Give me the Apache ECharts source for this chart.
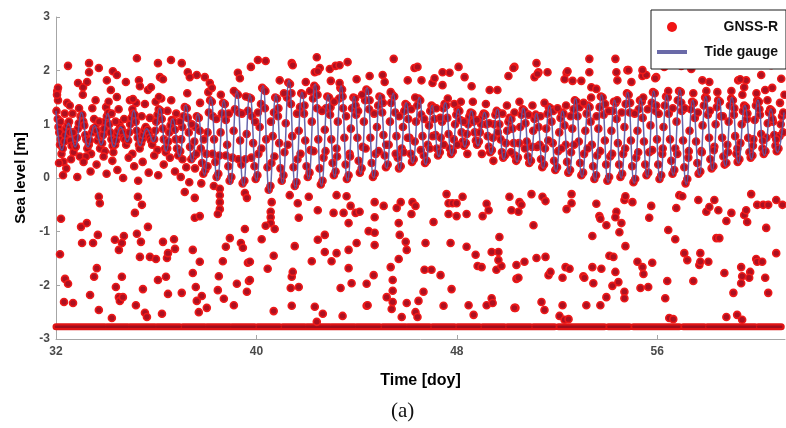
<!DOCTYPE html>
<html><head><meta charset="utf-8">
<script src="https://cdn.jsdelivr.net/npm/echarts/dist/echarts.min.js"></script>
<style>html,body{margin:0;padding:0;background:#fff}#c{width:786px;height:428px}</style>
</head><body><div id="c"></div>
<script>
// ---- data ----
const xTickInterval = 8;            // ticks 32, 40, 48, 56
const yTickInterval = 1;            // ticks -3 ... 3

// Tide gauge: successive high / low waters (day of year, metres)
const tideDay = [32.00,32.24,32.50,32.76,33.02,33.28,33.54,33.80,34.06,34.32,34.58,34.84,35.10,35.36,35.62,35.88,36.14,36.40,36.66,36.92,37.18,37.44,37.66,37.92,38.18,38.44,38.70,38.96,39.22,39.48,39.74,40.00,40.26,40.52,40.78,41.04,41.30,41.56,41.82,42.08,42.34,42.60,42.86,43.12,43.38,43.64,43.90,44.16,44.42,44.68,44.94,45.20,45.46,45.72,45.98,46.24,46.50,46.76,47.02,47.28,47.54,47.80,48.06,48.32,48.58,48.84,49.10,49.36,49.62,49.88,50.14,50.40,50.66,50.92,51.18,51.44,51.70,51.96,52.22,52.48,52.74,53.00,53.26,53.52,53.78,54.04,54.30,54.56,54.82,55.08,55.34,55.60,55.86,56.12,56.38,56.64,56.90,57.16,57.42,57.68,57.94,58.20,58.46,58.72,58.98,59.24,59.50,59.76,60.02,60.28,60.54,60.80,61.06];
const tideLevel = [1.25,0.52,1.02,0.58,1.22,0.58,0.98,0.62,1.20,0.58,0.95,0.68,1.26,0.60,0.92,0.68,1.30,0.50,1.10,0.40,1.36,0.30,1.20,0.05,1.50,-0.05,1.45,-0.12,1.62,-0.15,1.55,-0.05,1.72,-0.28,1.55,-0.10,1.82,-0.20,1.60,-0.02,1.75,-0.15,1.55,0.02,1.72,-0.05,1.52,0.08,1.68,0.00,1.55,0.18,1.58,0.15,1.40,0.28,1.50,0.25,1.35,0.40,1.40,0.42,1.28,0.58,1.25,0.60,1.22,0.45,1.28,0.35,1.15,0.30,1.30,0.25,1.20,0.18,1.35,0.12,1.25,0.08,1.48,0.02,1.38,-0.05,1.55,-0.08,1.45,0.00,1.60,-0.10,1.48,0.02,1.62,-0.05,1.55,0.05,1.65,-0.12,1.45,0.05,1.52,0.15,1.48,0.22,1.50,0.28,1.35,0.35,1.45,0.42,1.28,0.48,1.22];

// GNSS-R retrievals following the tide
const gnssTrack = [[32.02,1.25],[32.05,1.62],[32.07,1.10],[32.10,0.95],[32.13,0.85],[32.16,0.62],[32.19,0.72],[32.22,0.45],[32.27,0.55],[32.30,0.30],[32.33,0.68],[32.36,0.80],[32.40,0.92],[32.44,1.40],[32.47,0.98],[32.52,1.05],[32.55,0.85],[32.58,0.70],[32.62,0.60],[32.66,1.20],[32.70,0.48],[32.74,0.62],[32.79,0.58],[32.83,0.75],[32.87,0.92],[32.91,1.02],[32.95,0.40],[32.98,1.15],
[33.05,1.18],[33.09,1.05],[33.13,0.98],[33.17,0.80],[33.21,0.72],[33.25,0.55],[33.31,0.62],[33.35,0.70],[33.40,0.45],[33.44,0.85],[33.49,0.92],[33.52,1.10],[33.58,0.95],[33.62,0.88],[33.66,0.70],[33.71,0.78],[33.76,0.55],[33.84,0.65],[33.88,0.80],[33.92,0.92],[33.96,1.05],[34.00,1.32],[34.03,1.15],
[34.09,1.22],[34.13,1.00],[34.17,0.85],[34.21,0.72],[34.26,0.60],[34.29,0.48],[34.36,0.62],[34.40,0.70],[34.44,0.82],[34.48,0.88],[34.53,1.02],[34.56,0.95],[34.62,0.92],[34.66,0.85],[34.70,0.75],[34.75,0.72],[34.80,0.62],[34.88,0.70],[34.92,0.85],[34.96,1.00],[35.01,1.12],[35.05,1.28],[35.08,1.20],
[35.14,1.18],[35.18,1.05],[35.22,0.88],[35.26,0.75],[35.31,0.62],[35.34,0.55],[35.40,0.65],[35.44,0.72],[35.48,0.80],[35.53,0.90],[35.58,0.95],[35.66,0.90],[35.70,0.82],[35.74,0.75],[35.79,0.70],[35.84,0.62],[35.92,0.72],[35.96,0.88],[36.00,1.05],[36.05,1.18],[36.10,1.28],
[36.18,1.25],[36.22,1.10],[36.26,0.92],[36.30,0.72],[36.35,0.55],[36.38,0.48],[36.44,0.55],[36.48,0.68],[36.52,0.85],[36.57,0.98],[36.62,1.08],[36.70,1.05],[36.74,0.90],[36.78,0.72],[36.83,0.55],[36.88,0.42],[36.96,0.50],[37.00,0.72],[37.04,0.95],[37.09,1.15],[37.14,1.32],
[37.22,1.30],[37.26,1.12],[37.30,0.85],[37.35,0.58],[37.40,0.35],[37.48,0.40],[37.52,0.68],[37.57,0.95],[37.62,1.15],[37.70,1.12],[37.74,0.88],[37.78,0.55],[37.83,0.28],[37.88,0.08],[37.96,0.15],[38.00,0.45],[38.05,0.85],[38.10,1.22],[38.15,1.45],
[38.22,1.42],[38.26,1.15],[38.31,0.72],[38.36,0.30],[38.41,0.02],[38.48,0.08],[38.52,0.42],[38.57,0.85],[38.62,1.20],[38.67,1.40],[38.74,1.38],[38.78,1.08],[38.83,0.62],[38.88,0.22],[38.93,-0.05],[39.00,0.02],[39.04,0.38],[39.09,0.88],[39.14,1.28],[39.19,1.58],
[39.26,1.55],[39.30,1.22],[39.35,0.70],[39.40,0.25],[39.45,-0.10],[39.52,-0.05],[39.56,0.35],[39.61,0.82],[39.66,1.25],[39.71,1.50],[39.78,1.48],[39.82,1.15],[39.87,0.65],[39.92,0.22],[39.97,-0.02],
[40.04,0.05],[40.08,0.45],[40.13,0.95],[40.18,1.38],[40.23,1.68],[40.30,1.65],[40.34,1.30],[40.39,0.72],[40.44,0.20],[40.49,-0.22],[40.56,-0.15],[40.60,0.28],[40.65,0.78],[40.70,1.22],[40.75,1.50],[40.82,1.48],[40.86,1.15],[40.91,0.65],[40.96,0.18],[41.01,-0.05],
[41.08,0.05],[41.12,0.48],[41.17,1.02],[41.22,1.50],[41.27,1.78],[41.34,1.75],[41.38,1.38],[41.43,0.78],[41.48,0.20],[41.53,-0.15],[41.60,-0.08],[41.64,0.35],[41.69,0.88],[41.74,1.32],[41.79,1.58],[41.86,1.55],[41.90,1.20],[41.95,0.70],[42.00,0.22],[42.05,0.02],
[42.12,0.10],[42.16,0.52],[42.21,1.05],[42.26,1.48],[42.31,1.72],[42.38,1.68],[42.42,1.30],[42.47,0.72],[42.52,0.18],[42.57,-0.12],[42.64,-0.05],[42.68,0.38],[42.73,0.90],[42.78,1.30],[42.83,1.52],[42.90,1.50],[42.94,1.18],[42.99,0.72],[43.04,0.28],[43.09,0.05],
[43.16,0.12],[43.20,0.55],[43.25,1.05],[43.30,1.48],[43.35,1.68],[43.42,1.65],[43.46,1.30],[43.51,0.75],[43.56,0.25],[43.61,-0.02],[43.68,0.05],[43.72,0.45],[43.77,0.92],[43.82,1.30],[43.87,1.50],[43.94,1.48],[43.98,1.18],[44.03,0.75],[44.08,0.32],[44.13,0.10],
[44.20,0.18],[44.24,0.58],[44.29,1.05],[44.34,1.45],[44.39,1.65],[44.46,1.62],[44.50,1.28],[44.55,0.75],[44.60,0.28],[44.65,0.02],[44.72,0.08],[44.76,0.45],[44.81,0.95],[44.86,1.35],[44.91,1.52],[44.98,1.50],[45.02,1.22],[45.07,0.80],[45.12,0.42],[45.17,0.20],
[45.24,0.25],[45.28,0.62],[45.33,1.05],[45.38,1.40],[45.43,1.55],[45.50,1.52],[45.54,1.22],[45.59,0.78],[45.64,0.38],[45.69,0.18],[45.76,0.22],[45.80,0.55],[45.85,0.95],[45.90,1.25],[45.95,1.38],
[46.02,1.35],[46.06,1.10],[46.11,0.75],[46.16,0.45],[46.21,0.30],[46.28,0.35],[46.32,0.68],[46.37,1.05],[46.42,1.35],[46.47,1.48],[46.54,1.45],[46.58,1.18],[46.63,0.78],[46.68,0.42],[46.73,0.28],[46.80,0.32],[46.84,0.62],[46.89,0.98],[46.94,1.25],[46.99,1.35],
[47.06,1.32],[47.10,1.10],[47.15,0.80],[47.20,0.55],[47.25,0.42],[47.32,0.48],[47.36,0.75],[47.41,1.05],[47.46,1.30],[47.51,1.38],[47.58,1.35],[47.62,1.12],[47.67,0.82],[47.72,0.55],[47.77,0.45],[47.84,0.50],[47.88,0.72],[47.93,1.00],[47.98,1.18],[48.03,1.28],
[48.10,1.25],[48.14,1.08],[48.19,0.85],[48.24,0.68],[48.29,0.60],[48.36,0.65],[48.40,0.82],[48.45,1.00],[48.50,1.15],[48.55,1.22],[48.62,1.20],[48.66,1.05],[48.71,0.85],[48.76,0.70],[48.81,0.62],[48.88,0.68],[48.92,0.85],[48.97,1.00],[49.02,1.15],[49.07,1.20],
[49.14,1.18],[49.18,1.00],[49.23,0.78],[49.28,0.58],[49.33,0.48],[49.40,0.52],[49.44,0.75],[49.49,1.00],[49.54,1.18],[49.59,1.25],[49.66,1.22],[49.70,1.00],[49.75,0.72],[49.80,0.48],[49.85,0.38],[49.92,0.42],[49.96,0.65],[50.01,0.88],[50.06,1.05],[50.11,1.12],
[50.18,1.10],[50.22,0.92],[50.27,0.65],[50.32,0.42],[50.37,0.32],[50.44,0.38],[50.48,0.65],[50.53,0.95],[50.58,1.18],[50.63,1.28],[50.70,1.25],[50.74,1.02],[50.79,0.68],[50.84,0.40],[50.89,0.28],[50.96,0.32],[51.00,0.58],[51.05,0.88],[51.10,1.10],[51.15,1.18],
[51.22,1.15],[51.26,0.95],[51.31,0.62],[51.36,0.35],[51.41,0.20],[51.48,0.25],[51.52,0.55],[51.57,0.92],[51.62,1.20],[51.67,1.32],[51.74,1.30],[51.78,1.05],[51.83,0.65],[51.88,0.32],[51.93,0.15],
[52.00,0.20],[52.04,0.50],[52.09,0.85],[52.14,1.12],[52.19,1.22],[52.26,1.20],[52.30,0.98],[52.35,0.62],[52.40,0.30],[52.45,0.10],[52.52,0.15],[52.56,0.48],[52.61,0.92],[52.66,1.28],[52.71,1.45],[52.78,1.42],[52.82,1.15],[52.87,0.68],[52.92,0.28],[52.97,0.05],
[53.04,0.10],[53.08,0.45],[53.13,0.88],[53.18,1.20],[53.23,1.35],[53.30,1.32],[53.34,1.05],[53.39,0.62],[53.44,0.22],[53.49,-0.02],[53.56,0.05],[53.60,0.42],[53.65,0.92],[53.70,1.32],[53.75,1.52],[53.82,1.50],[53.86,1.18],[53.91,0.70],[53.96,0.25],[54.01,-0.05],
[54.08,0.02],[54.12,0.40],[54.17,0.88],[54.22,1.25],[54.27,1.42],[54.34,1.40],[54.38,1.10],[54.43,0.65],[54.48,0.25],[54.53,0.02],[54.60,0.08],[54.64,0.45],[54.69,0.95],[54.74,1.38],[54.79,1.58],[54.86,1.55],[54.90,1.22],[54.95,0.70],[55.00,0.22],[55.05,-0.08],
[55.12,-0.02],[55.16,0.38],[55.21,0.88],[55.26,1.28],[55.31,1.45],[55.38,1.42],[55.42,1.12],[55.47,0.68],[55.52,0.25],[55.57,0.05],[55.64,0.10],[55.68,0.48],[55.73,0.98],[55.78,1.40],[55.83,1.60],[55.90,1.58],[55.94,1.25],[55.99,0.72],[56.04,0.25],[56.09,-0.02],
[56.16,0.05],[56.20,0.45],[56.25,0.95],[56.30,1.35],[56.35,1.52],[56.42,1.50],[56.46,1.20],[56.51,0.72],[56.56,0.32],[56.61,0.08],[56.68,0.15],[56.72,0.55],[56.77,1.05],[56.82,1.45],[56.87,1.62],[56.94,1.60],[56.98,1.25],[57.03,0.70],[57.08,0.20],[57.13,-0.10],
[57.20,-0.02],[57.24,0.38],[57.29,0.88],[57.34,1.28],[57.39,1.42],[57.46,1.40],[57.50,1.12],[57.55,0.68],[57.60,0.28],[57.65,0.08],[57.72,0.12],[57.76,0.50],[57.81,0.98],[57.86,1.35],[57.91,1.50],[57.98,1.48],[58.02,1.18],[58.07,0.75],[58.12,0.35],[58.17,0.18],
[58.24,0.22],[58.28,0.58],[58.33,1.00],[58.38,1.32],[58.43,1.45],[58.50,1.42],[58.54,1.15],[58.59,0.75],[58.64,0.40],[58.69,0.25],[58.76,0.28],[58.80,0.62],[58.85,1.05],[58.90,1.35],[58.95,1.48],[59.02,1.45],[59.06,1.18],[59.11,0.78],[59.16,0.45],[59.21,0.30],
[59.28,0.35],[59.32,0.65],[59.37,1.00],[59.42,1.25],[59.47,1.35],[59.54,1.32],[59.58,1.10],[59.63,0.75],[59.68,0.48],[59.73,0.38],[59.80,0.42],[59.84,0.72],[59.89,1.08],[59.94,1.35],[59.99,1.45],
[60.06,1.42],[60.10,1.18],[60.15,0.82],[60.20,0.55],[60.25,0.45],[60.32,0.50],[60.36,0.75],[60.41,1.02],[60.46,1.22],[60.51,1.28],[60.58,1.25],[60.62,1.05],[60.67,0.80],[60.72,0.60],[60.77,0.50],[60.84,0.55],[60.88,0.78],[60.93,1.00],[60.98,1.15],[61.03,1.22]];

// GNSS-R retrievals scattered around the tide band
const gnssSpread = [[32.08,1.45],[32.18,1.05],[32.35,1.20],[32.55,1.35],[32.68,0.85],[32.92,1.30],[33.07,1.55],[33.20,0.40],[33.45,1.30],[33.58,1.45],[33.72,1.05],[33.95,0.50],[34.10,1.42],[34.22,1.20],[34.38,1.05],[34.50,1.28],[34.72,1.10],[34.95,1.45],[35.05,0.45],[35.20,1.40],[35.42,1.15],[35.55,1.38],[35.75,1.12],[35.98,1.42],[36.05,0.52],[36.20,1.48],[36.45,1.25],[36.60,1.45],[36.80,1.20],[36.95,1.05],[37.05,0.35],[37.24,1.58],[37.42,1.00],[37.60,0.45],[37.75,1.40],[37.90,0.72],[38.08,1.60],[38.25,0.45],[38.40,1.10],[38.58,1.55],[38.78,0.42],[38.90,1.20],[39.10,1.62],[39.28,0.35],[39.42,1.20],[39.58,1.52],[39.80,0.38],[39.95,1.05],[40.06,1.22],[40.20,0.55],[40.36,1.62],[40.58,1.05],[40.72,0.40],[40.88,1.30],[41.10,1.58],[41.25,0.62],[41.40,1.58],[41.62,1.20],[41.76,0.45],[41.92,1.35],[42.14,1.62],[42.28,0.50],[42.44,1.55],[42.62,1.25],[42.76,0.50],[42.96,1.32],[43.10,1.42],[43.22,0.40],[43.44,1.52],[43.58,1.15],[43.74,0.40],[43.96,1.35],[44.06,1.25],[44.22,1.55],[44.36,0.55],[44.52,1.45],[44.70,1.20],[44.88,0.50],[45.05,1.40],[45.18,0.62],[45.36,1.60],[45.56,0.45],[45.70,1.15],[45.88,0.48],[46.04,0.75],[46.18,1.28],[46.34,1.50],[46.56,0.52],[46.70,1.10],[46.92,0.55],[47.04,0.78],[47.18,1.30],[47.34,1.12],[47.48,0.62],[47.64,1.48],[47.90,1.38],[48.02,0.62],[48.16,1.42],[48.28,1.05],[48.42,0.45],[48.64,1.42],[48.80,1.08],[49.00,0.45],[49.16,1.38],[49.30,1.02],[49.46,0.32],[49.64,0.85],[49.82,1.20],[50.00,1.35],[50.16,0.48],[50.30,1.22],[50.50,1.42],[50.72,0.55],[50.86,1.18],[51.02,1.35],[51.20,0.58],[51.34,1.15],[51.50,1.40],[51.65,0.70],[51.85,1.25],[52.02,1.30],[52.18,0.55],[52.36,1.35],[52.54,1.15],[52.68,0.62],[52.90,1.32],[53.06,1.40],[53.22,0.55],[53.36,1.50],[53.58,1.15],[53.72,0.50],[53.92,1.38],[54.06,1.25],[54.20,0.45],[54.40,1.45],[54.58,1.22],[54.72,0.55],[54.92,1.40],[55.10,1.20],[55.24,0.48],[55.44,1.50],[55.62,1.28],[55.80,0.52],[55.96,1.35],[56.06,1.20],[56.22,0.55],[56.44,1.62],[56.62,1.30],[56.80,0.45],[56.96,1.40],[57.10,1.30],[57.26,0.50],[57.44,1.58],[57.62,1.22],[57.78,0.48],[57.96,1.62],[58.10,1.25],[58.26,0.52],[58.40,1.60],[58.62,1.15],[58.82,0.48],[58.96,1.62],[59.08,1.30],[59.20,0.55],[59.40,1.55],[59.60,1.20],[59.82,0.60],[59.96,1.58],[60.08,1.28],[60.22,0.70],[60.40,1.45],[60.60,1.10],[60.75,0.72],[60.90,1.40],[61.02,0.85],[61.08,1.55],
[32.12,0.28],[32.28,0.05],[32.41,0.18],[32.60,0.35],[32.85,0.02],[33.10,0.30],[33.38,0.12],[33.62,0.25],[33.90,0.40],[34.02,0.08],[34.25,0.32],[34.45,0.15],[34.68,0.00],[34.90,0.38],[35.12,0.22],[35.28,-0.05],[35.46,0.30],[35.70,0.10],[35.92,0.42],[36.08,0.05],[36.30,0.25],[36.55,0.38],[36.75,0.12],[36.98,0.02],[37.20,0.20],[37.32,-0.08],[37.55,0.18],[37.80,-0.10],[38.05,0.22],[38.30,-0.15]];

// GNSS-R retrievals well above the tide
const gnssHigh = [[32.48,2.09],[33.32,2.14],[33.32,1.97],[33.71,2.05],[34.27,1.99],[34.43,1.92],[34.79,1.79],[35.23,2.23],[35.31,1.82],[36.07,2.14],[36.59,2.20],[36.15,1.88],[36.27,1.84],[37.02,2.14],[37.26,1.97],[37.34,1.88],[37.62,1.92],[37.94,1.88],[38.14,1.77],[38.22,1.68],[39.26,1.96],[39.34,1.86],[39.78,2.07],[40.06,2.20],[32.08,1.68],[32.04,1.55],[32.88,1.77],[33.08,1.69],[33.24,1.79],[34.03,1.82],[34.19,1.64],[35.35,1.71],[35.67,1.64],[35.79,1.69],[36.11,1.51],[35.07,1.47],[34.43,1.51],[40.37,2.18],[41.41,2.14],[41.45,2.10],[42.41,2.25],[42.33,1.97],[42.53,2.05],[42.45,1.99],[42.93,2.03],[43.16,2.09],[43.32,2.10],[43.64,2.16],[40.93,1.82],[41.97,1.79],[42.97,1.81],[43.32,1.77],[44.00,1.84],[44.52,1.90],[45.48,2.22],[45.04,1.92],[45.12,1.79],[46.04,1.82],[46.31,2.05],[46.43,2.07],[46.59,1.82],[47.03,1.77],[47.11,1.86],[47.43,1.97],[47.71,1.96],[48.07,2.07],[48.31,1.88],[48.59,1.71],[47.43,1.73],[49.31,1.64],[49.62,1.64],[50.06,1.90],[50.30,2.07],[51.10,1.88],[51.26,1.97],[51.62,1.97],[52.38,1.96],[52.30,1.84],[52.62,1.81],[52.97,1.81],[53.29,2.22],[53.29,1.97],[53.37,1.69],[53.57,1.66],[54.33,2.22],[54.37,1.97],[54.41,1.82],[54.81,2.01],[54.97,1.79],[55.41,1.90],[55.56,1.92],[55.96,1.88],[56.32,2.10],[56.60,2.14],[56.96,2.09],[57.36,2.03],[57.80,1.82],[58.08,1.79],[59.23,1.82],[59.55,1.82],[59.39,2.20],[56.28,2.07],[55.41,2.01],[55.92,1.86],[59.31,1.84],[59.47,1.69],[60.59,1.68],[60.31,1.64],[50.26,2.05],[51.18,2.14],[51.22,1.94],[52.42,1.99],[54.85,2.01],[60.55,2.10],[60.95,1.85],[60.15,1.92]];

// GNSS-R retrievals below zero
const gnssLow = [[32.20,-0.76],[32.16,-1.42],[32.36,-1.88],[32.48,-1.97],[32.32,-2.31],[32.68,-2.33],[33.00,-0.91],[33.04,-1.21],[33.23,-0.84],[33.36,-2.18],[33.48,-1.21],[33.52,-1.84],[33.63,-1.68],[33.67,-1.06],[33.71,-2.46],[33.71,-0.35],[33.75,-0.47],[34.23,-2.61],[34.35,-1.15],[34.39,-2.03],[34.51,-1.34],[34.51,-2.22],[34.55,-2.29],[34.63,-1.21],[34.63,-1.84],[34.71,-1.08],[34.67,-2.22],[35.15,-0.65],[35.19,-2.37],[35.23,-1.04],[35.27,-0.35],[35.35,-1.47],[35.43,-0.50],[35.39,-1.19],[35.47,-2.07],[35.55,-2.51],[35.63,-2.59],[35.67,-0.91],[35.75,-1.47],[35.99,-1.51],[36.07,-1.90],[36.23,-2.53],[36.27,-1.19],[36.39,-1.84],[36.43,-1.49],[36.47,-1.40],[36.47,-2.16],[36.71,-1.14],[36.75,-1.32],[37.02,-2.14],[37.14,-0.26],[37.46,-1.34],[37.46,-1.77],[37.54,-0.37],[37.54,-0.74],[37.74,-0.71],[37.58,-2.03],[37.62,-2.29],[37.70,-2.50],[37.74,-1.56],[37.82,-2.20],[38.02,-2.42],[38.46,-2.09],[38.50,-1.83],[38.54,-0.20],[38.54,-0.32],[38.54,-0.45],[38.54,-0.58],[38.46,-0.67],[38.66,-1.55],[38.70,-2.25],[38.78,-1.28],[38.94,-1.12],[39.10,-2.37],[39.22,-1.97],[39.38,-1.21],[39.46,-1.30],[39.54,-0.95],[39.62,-2.12],[39.66,-1.58],[39.70,-1.92],[39.54,-0.28],[39.62,-0.37],
[40.61,-0.45],[40.57,-0.63],[40.57,-0.73],[40.57,-0.84],[40.37,-0.89],[40.73,-0.95],[40.21,-1.14],[40.69,-1.45],[40.45,-1.69],[40.69,-2.48],[39.74,-1.56],[39.74,-1.90],[41.41,-1.84],[41.45,-1.75],[41.37,-2.05],[41.69,-2.03],[41.41,-2.38],[41.53,-1.27],[41.69,-0.74],[41.65,-0.47],[41.33,-0.32],[42.09,-0.35],[42.21,-1.55],[42.33,-2.40],[42.41,-2.68],[42.45,-1.15],[42.45,-0.60],[42.65,-2.53],[42.73,-1.06],[42.73,-1.38],[43.00,-1.55],[43.08,-0.65],[43.20,-1.40],[43.20,-0.32],[43.36,-2.05],[43.44,-2.57],[43.48,-0.65],[43.60,-0.34],[43.68,-1.34],[43.68,-0.84],[43.68,-1.68],[43.76,-0.52],[43.80,-1.96],[44.00,-1.21],[43.96,-0.65],[44.12,-0.63],[44.40,-2.38],[44.40,-1.97],[44.44,-2.37],[44.48,-0.99],[44.68,-1.81],[44.72,-0.45],[44.72,-0.73],[44.72,-1.02],[44.72,-1.25],[45.08,-0.52],[45.20,-2.22],[45.36,-1.66],[45.40,-2.44],[45.44,-1.90],[45.44,-2.10],[45.44,-2.31],[45.60,-0.56],[45.68,-0.84],[45.72,-1.06],[45.68,-1.51],[45.76,-0.45],[45.80,-2.59],[45.96,-1.19],[46.00,-1.34],[46.00,-2.33],[46.19,-0.67],[46.23,-0.45],[46.35,-0.52],[46.35,-2.50],[46.43,-2.59],[46.47,-2.29],[46.67,-2.12],[46.71,-1.71],[46.99,-1.71],[46.75,-1.21],[47.07,-0.82],[47.35,-1.81],[47.47,-2.38],[47.59,-0.30],[47.67,-0.47],[47.67,-0.67],[47.75,-1.21],[47.79,-2.07],[47.83,-0.47],[47.99,-0.47],[47.99,-0.71],[48.23,-0.35],[48.39,-0.67],[48.39,-1.28],[48.47,-2.37],[48.67,-2.55],[48.75,-1.43],[48.83,-1.64],[48.99,-1.66],[49.03,-0.71],[49.19,-0.48],[49.19,-2.37],[49.27,-0.60],[49.39,-2.24],[49.43,-2.33],[49.39,-1.38],[49.66,-1.38],[49.58,-1.71],[49.78,-1.64],[49.70,-1.10],[49.66,-1.53],[50.10,-0.35],[50.18,-0.60],[50.34,-2.42],[50.38,-1.62],[50.38,-1.88],
[50.50,-0.45],[50.58,-0.50],[50.46,-0.63],[50.98,-0.30],[51.06,-0.88],[50.46,-1.86],[50.70,-1.56],[50.30,-2.42],[51.18,-1.49],[51.54,-1.47],[51.38,-2.31],[51.50,-2.46],[51.66,-1.81],[51.74,-1.75],[51.42,-0.35],[51.54,-0.43],[52.10,-2.57],[52.22,-2.37],[52.22,-1.86],[52.34,-1.66],[52.50,-1.69],[52.38,-0.58],[52.58,-0.47],[52.58,-0.30],[52.30,-2.64],[52.46,-2.63],[53.05,-1.83],[53.09,-1.86],[53.17,-2.37],[53.41,-1.66],[53.45,-1.96],[53.41,-1.08],[53.57,-0.48],[53.69,-0.71],[53.73,-0.76],[53.73,-2.37],[53.77,-1.69],[53.97,-2.22],[53.97,-0.88],[54.09,-1.45],[54.25,-1.47],[54.21,-2.01],[54.33,-1.75],[54.37,-0.63],[54.33,-0.73],[54.45,-1.94],[54.49,-1.01],[54.57,-0.84],[54.69,-2.12],[54.69,-2.24],[54.73,-1.27],[54.69,-0.41],[54.73,-0.34],[55.01,-0.45],[55.21,-1.56],[55.33,-2.05],[55.41,-1.66],[55.45,-1.79],[55.68,-0.74],[55.76,-0.52],[55.64,-2.03],[55.80,-1.58],[56.32,-2.24],[56.40,-1.92],[56.44,-0.97],[56.48,-2.61],[56.64,-2.63],[56.72,-1.14],[56.76,-0.56],[56.88,-0.32],[57.00,-0.34],[57.08,-1.40],[57.20,-1.53],[57.44,-1.92],[57.68,-1.62],[57.72,-1.56],[57.72,-1.40],[57.64,-0.41],[58.04,-1.56],[57.96,-0.63],[58.08,-0.54],[58.28,-0.41],[58.36,-1.12],[58.48,-1.12],[58.44,-0.60],[58.68,-1.77],[58.76,-2.59],[58.76,-0.80],[58.96,-0.65],[59.04,-2.14],[59.19,-2.55],[59.35,-1.66],[59.39,-1.83],[59.35,-1.96],[59.39,-2.64],[59.47,-0.69],[59.59,-0.82],[59.55,-0.60],[59.71,-1.75],[59.67,-1.86],[59.75,-0.30],[59.95,-1.51],[59.99,-1.56],[60.19,-1.56],[59.99,-0.50],[60.23,-0.50],[60.43,-0.50],[60.31,-1.86],[60.35,-0.93],[60.43,-2.14],[60.75,-0.41],[60.75,-1.40],[61.00,-0.50]];

// Failed retrievals stacked at the floor value: runs of consecutive points (day of year)
const floorLevel = -2.77;
const floorStart = [32.00,34.03,34.95,36.03,37.06,38.02,39.02,40.05,41.05,42.01,43.00,44.00,45.04,46.04,47.03,48.03,49.03,50.02,51.06,52.06,54.05,55.05,57.04,58.00,60.03];
const floorEnd   = [33.95,34.87,35.95,36.94,37.94,38.94,39.93,40.93,41.93,42.93,43.92,44.92,45.96,46.91,47.91,48.91,49.90,50.94,51.90,53.89,54.89,56.88,57.88,59.91,60.95];

// ---- chart ----
const FONT = 'Liberation Sans, Arial, Helvetica, sans-serif';
const gnssAll = gnssTrack.concat(gnssSpread, gnssHigh, gnssLow);
const tideData = tideDay.map((d, i) => [d, tideLevel[i]]);
const floorData = [];
floorStart.forEach((s, i) => { floorData.push([s, floorLevel], [floorEnd[i], floorLevel], [floorEnd[i] + 0.01, '-']); });

const axisCommon = {
  axisLine: { show: true, onZero: false, lineStyle: { color: '#a6a6a6', width: 1 } },
  axisTick: { show: true, inside: true, length: 4, lineStyle: { color: '#a6a6a6' } },
  splitLine: { show: false },
  axisLabel: { color: '#4a4a4a', fontSize: 12, fontWeight: 'bold', fontFamily: FONT }
};

const chart = echarts.init(document.getElementById('c'), null, { renderer: 'canvas' });
chart.setOption({
  animation: false,
  backgroundColor: '#fff',
  grid: { left: 56, right: 1, top: 17, bottom: 89 },
  xAxis: Object.assign({}, axisCommon, {
    type: 'value', min: 32, max: 61.1, interval: xTickInterval,
    axisLabel: Object.assign({}, axisCommon.axisLabel, { margin: 7, showMaxLabel: false }),
    name: 'Time [doy]', nameLocation: 'middle', nameGap: 34,
    nameTextStyle: { fontSize: 16, fontWeight: 'bold', color: '#000', fontFamily: FONT }
  }),
  yAxis: Object.assign({}, axisCommon, {
    type: 'value', min: -3, max: 3, interval: yTickInterval,
    axisLabel: Object.assign({}, axisCommon.axisLabel, { margin: 6 }),
    name: 'Sea level [m]', nameLocation: 'middle', nameGap: 22,
    nameTextStyle: { fontSize: 15, fontWeight: 'bold', color: '#000', fontFamily: FONT }
  }),
  legend: {
    data: [
      { name: 'GNSS-R', icon: 'circle', itemStyle: { color: '#f01414', borderWidth: 0, opacity: 1 } },
      { name: 'Tide gauge', icon: 'path://M0,0L30,0L30,4L0,4Z', itemStyle: { color: '#6a6aa8', borderWidth: 0 } }
    ],
    orient: 'vertical', left: 651, top: 10, padding: [10, 8, 10, 6],
    itemWidth: 30, itemHeight: 10, itemGap: 11,
    borderColor: '#1a1a1a', borderWidth: 1, backgroundColor: '#fff',
    selectedMode: false,
    formatter: n => '{t|' + n + '}',
    textStyle: {
      fontFamily: FONT, fontWeight: 'bold', fontSize: 14, color: '#111',
      rich: { t: { width: 86, align: 'right', fontFamily: FONT, fontWeight: 'bold', fontSize: 14, color: '#111' } }
    }
  },
  graphic: [
    { type: 'text', left: 391, top: 401, style: { text: '(a)', fontFamily: 'Liberation Serif, Times New Roman, serif', fontSize: 21, fill: '#111' } }
  ],
  series: [
    { name: 'floorBand', type: 'line', data: floorData, symbol: 'none', silent: true, z: 1,
      lineStyle: { color: '#e01414', width: 7, cap: 'round' } },
    { name: 'floorCore', type: 'line', data: floorData, symbol: 'none', silent: true, z: 1,
      lineStyle: { color: '#a00d1c', width: 2.5, cap: 'round' } },
    { name: 'GNSS-R', type: 'scatter', data: gnssAll, symbol: 'circle', symbolSize: 7, z: 2,
      itemStyle: { color: '#ac1020', borderColor: '#ee1a1a', borderWidth: 1.6, opacity: 1 } },
    { name: 'Tide gauge', type: 'line', data: tideData, symbol: 'none', smooth: 0.5, z: 3,
      lineStyle: { color: '#5656a4', width: 1.5, opacity: 0.9 } }
  ]
});
</script></body></html>
